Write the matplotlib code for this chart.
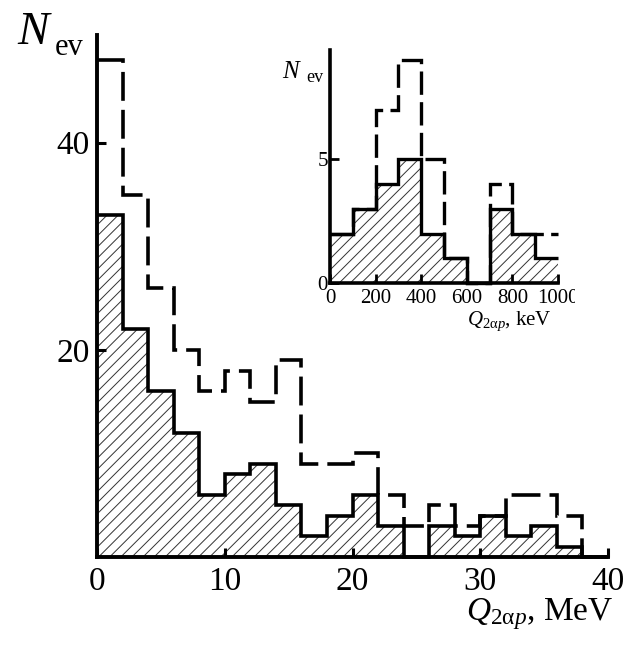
import numpy as np
import matplotlib
matplotlib.use("Agg")
import matplotlib.pyplot as plt
from matplotlib.transforms import Bbox, TransformedBbox

plt.rcParams["font.family"] = ["Liberation Serif", "DejaVu Serif"]
plt.rcParams["mathtext.fontset"] = "custom"
plt.rcParams["mathtext.rm"] = "Liberation Serif"
plt.rcParams["mathtext.it"] = "Liberation Serif:italic"
plt.rcParams["mathtext.bf"] = "Liberation Serif:bold"
plt.rcParams["hatch.linewidth"] = 0.7

# Q_{2alpha p} spectrum, 2 MeV bins
mev_edges = np.arange(0, 41, 2)
mev_hatched = [33, 22, 16, 12, 6, 8, 9, 5, 2, 4, 6, 3, 0, 3, 2, 4, 2, 3, 1, 0]
mev_dashed = [48, 35, 26, 20, 16, 18, 15, 19, 9, 9, 10, 6, 3, 5, 3, 4, 6, 6, 4, 0]
mev_xticks = [0, 10, 20, 30, 40]
mev_yticks = [20, 40]

# low-energy part, 100 keV bins
kev_edges = np.arange(0, 1001, 100)
kev_hatched = [2, 3, 4, 5, 2, 1, 0, 3, 2, 1]
kev_dashed = [2, 3, 7, 9, 5, 1, 0, 4, 2, 2]
kev_xticks = [0, 200, 400, 600, 800, 1000]
kev_yticks = [0, 5]

W, H = 623, 649
fig = plt.figure(figsize=(W / 100, H / 100), dpi=100)


def px_axes(left, top, right, bottom):
    return fig.add_axes([left / W, 1 - bottom / H, (right - left) / W, (bottom - top) / H])


def draw_hist(ax, edges, hatched, dashed, lw, dash):
    ax.stairs(hatched, edges, baseline=0, fill=True, facecolor="white",
              edgecolor="#333333", lw=0, hatch="///", zorder=1)
    ax.stairs(dashed, edges, baseline=None, color="black", lw=lw,
              linestyle=(0, dash), zorder=1.5, clip_on=False)
    ax.stairs(hatched, edges, baseline=None, color="black", lw=lw,
              zorder=4, clip_on=False)


def style_axes(ax, spine_lw):
    ax.patch.set_visible(False)
    for s in ("top", "right"):
        ax.spines[s].set_visible(False)
    for s in ("left", "bottom"):
        ax.spines[s].set_linewidth(spine_lw)


# main panel
ax = px_axes(97, 35, 608, 557)
draw_hist(ax, mev_edges, mev_hatched, mev_dashed, 2.6, (8, 2.5))
ax.set_xlim(0, 40)
ax.set_ylim(0, 50.4)
ax.set_xticks(mev_xticks)
ax.set_yticks(mev_yticks)
style_axes(ax, 2.8)
ax.tick_params(direction="in", length=6.5, width=2.2, labelsize=24)
ax.tick_params(axis="x", pad=7)
ax.tick_params(axis="y", pad=5)

fig.text(17 / W, 1 - 44 / H, "N", fontstyle="italic", fontsize=34, va="baseline")
fig.text(55 / W, 1 - 55 / H, "ev", fontsize=22, va="baseline")
fig.text(613 / W, 1 - 620 / H, r"$Q_{2\mathrm{\alpha}p}$, MeV", fontsize=24,
         ha="right", va="baseline")

# inset panel
axi = px_axes(330, 50, 558, 283)
draw_hist(axi, kev_edges, kev_hatched, kev_dashed, 2.4, (7, 2.2))
axi.set_xlim(0, 1000)
axi.set_ylim(0, 9.42)
axi.set_xticks(kev_xticks)
axi.set_yticks(kev_yticks)
style_axes(axi, 2.6)
axi.tick_params(direction="in", length=6.5, width=2.0, labelsize=15)
axi.tick_params(axis="x", pad=4)
axi.tick_params(axis="y", pad=1.5)

fig.text(282 / W, 1 - 78 / H, "N", fontstyle="italic", fontsize=18, va="baseline")
fig.text(306 / W, 1 - 82 / H, "ev", fontsize=13, va="baseline")
fig.text(552 / W, 1 - 325 / H, r"$Q_{2\mathrm{\alpha}p}$, keV", fontsize=15,
         ha="right", va="baseline")

# the last inset tick label runs past the panel edge and is cut there
fig.canvas.draw()
last = axi.get_xticklabels()[-1]
last.set_clip_on(True)
last.set_clip_box(TransformedBbox(Bbox([[0, 0], [575 / W, 1]]), fig.transFigure))

fig.savefig("out.png", dpi=100)
